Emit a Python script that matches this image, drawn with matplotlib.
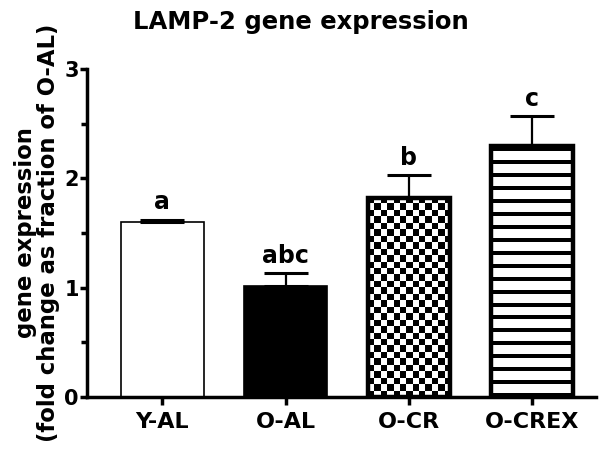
import matplotlib

matplotlib.use("Agg")
import matplotlib.pyplot as plt
import numpy as np

plt.rcParams["font.family"] = ["DejaVu Sans"]
plt.rcParams["font.weight"] = "bold"

groups = ["Y-AL", "O-AL", "O-CR", "O-CREX"]
means = [1.60, 1.01, 1.82, 2.30]
errs = [0.02, 0.12, 0.21, 0.27]
letters = ["a", "abc", "b", "c"]

fig = plt.figure(figsize=(6.01, 4.51), dpi=100)
ax = fig.add_axes([0.145, 0.12, 0.847, 0.727])

x = np.arange(len(groups))
w = 0.67

bars = ax.bar(x, means, width=w, color="white", edgecolor="black", linewidth=1.2, zorder=2)
bars[1].set_facecolor("black")
for b in (bars[2], bars[3]):
    b.set_linewidth(3.2)
    b.set_facecolor("none")


def fill_pattern(bar, img, cell_w, cell_h):
    x0, y0 = bar.get_x(), bar.get_y()
    im = ax.imshow(img, cmap="gray", vmin=0, vmax=1, interpolation="nearest",
                   extent=[x0, x0 + img.shape[1] * cell_w, y0, y0 + img.shape[0] * cell_h],
                   origin="lower", aspect="auto", zorder=1.5)
    im.set_clip_path(bar)


# checkerboard for O-CR
cw, ch = w / 13, 0.059
nx, ny = 14, int(means[2] / ch) + 2
checker = ((np.arange(ny)[:, None] + np.arange(nx)[None, :]) % 2).astype(float)
fill_pattern(bars[2], checker, cw, ch)

# horizontal stripes for O-CREX (period ~13 px: 4 dark, 9 light)
sp = 0.118
ny = int(means[3] / sp) + 2
row = np.r_[np.zeros(4), np.ones(9)]
stripes = np.tile(row, ny)[:, None]
fill_pattern(bars[3], stripes, w, sp / 13)

ax.errorbar(x, means, yerr=[np.zeros(len(errs)), errs], fmt="none",
            ecolor="black", elinewidth=1.6, capsize=15.5, capthick=2.2, zorder=3)

for xi, m, e, t in zip(x, means, errs, letters):
    ax.text(xi, m + e + 0.05, t, ha="center", va="bottom", fontsize=17, fontweight="bold")

ax.set_xlim(-0.61, 3.52)
ax.set_ylim(0, 3)
ax.set_xticks(x)
ax.set_xticklabels(groups, fontsize=16, fontweight="bold")
ax.set_yticks([0, 1, 2, 3])
ax.set_yticks([0.5, 1.5, 2.5], minor=True)
ax.tick_params(axis="y", labelsize=15, width=2.5, length=5, pad=1)
ax.tick_params(axis="y", which="minor", width=2.5, length=4)
ax.tick_params(axis="x", width=2.5, length=6, pad=5)
for s in ["top", "right"]:
    ax.spines[s].set_visible(False)
for s in ["left", "bottom"]:
    ax.spines[s].set_linewidth(2.5)

fig.text(37 / 601, 1 - 233 / 451, "gene expression\n(fold change as fraction of O-AL)",
         rotation=90, ha="center", va="center", fontsize=16.4, fontweight="bold",
         linespacing=1.0)
fig.text(301 / 601, 1 - 22 / 451, "LAMP-2 gene expression", ha="center", va="center",
         fontsize=17.5, fontweight="bold")

fig.savefig("out.png", dpi=100)
